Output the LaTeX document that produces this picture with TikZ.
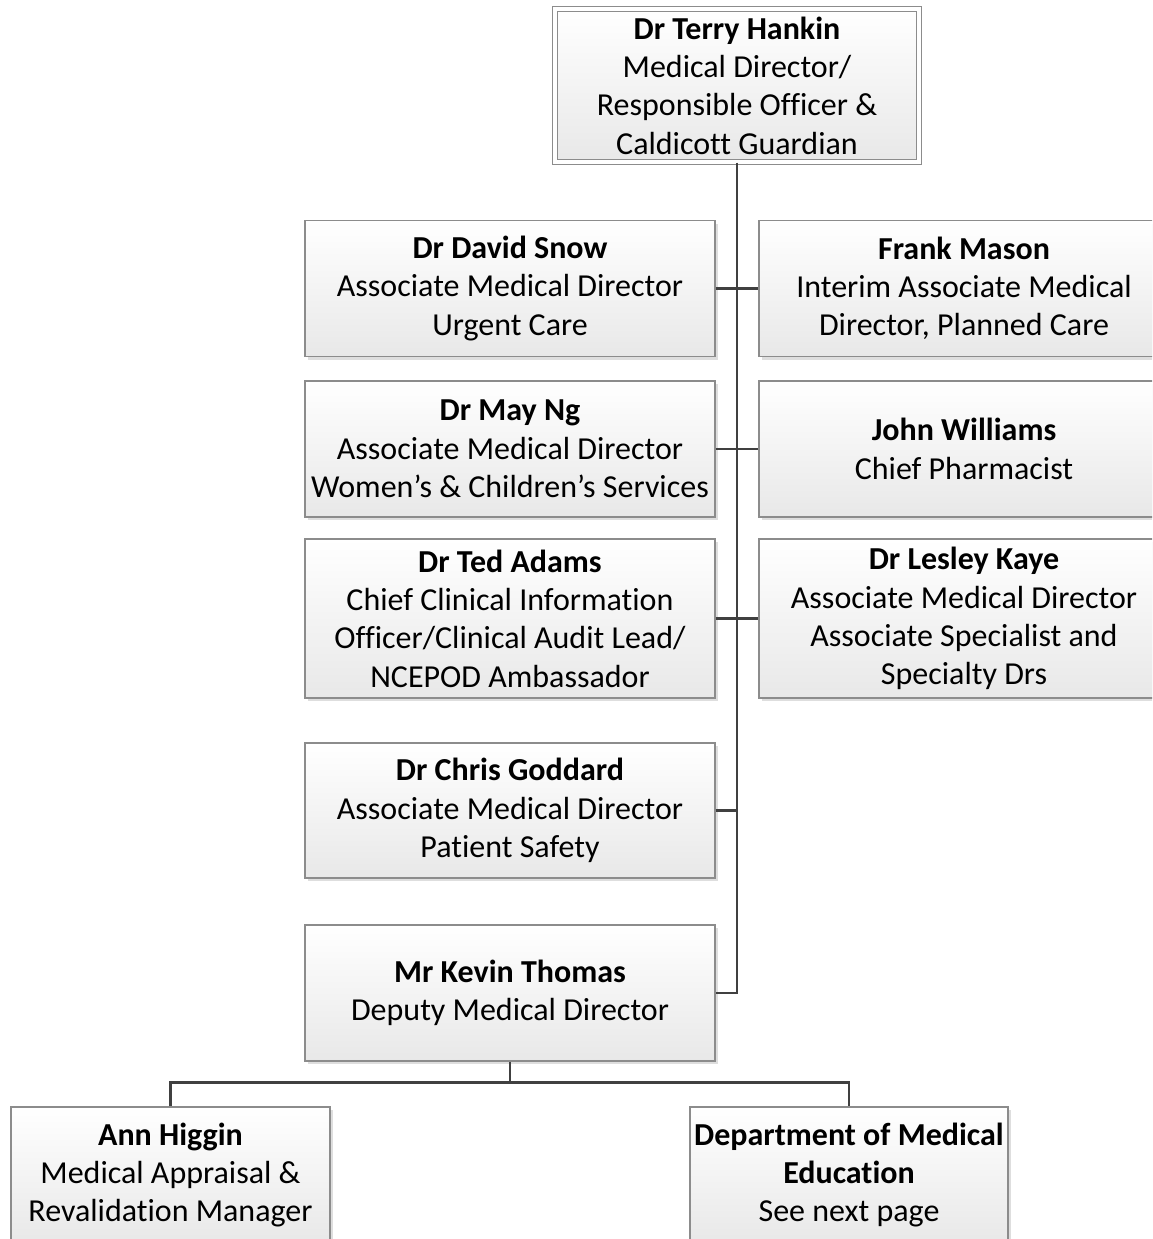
\documentclass[tikz,border=0pt]{standalone}
\usepackage{fontspec}
\setmainfont{Carlito}[Ligatures=NoCommon]
\usetikzlibrary{shadows}

\begin{document}
\begin{tikzpicture}[
    x=1pt, y=-1pt,
    box/.style={rectangle, draw=black!45, line width=1.3pt, top color=white, bottom color=black!9,
        minimum width=410pt, minimum height=136pt, inner sep=0pt, align=center,
        font=\fontsize{32}{38.3}\selectfont,
        drop shadow={shadow xshift=3pt, shadow yshift=-3pt, fill=black!25, opacity=0.5}},
    link/.style={draw=black!75, line width=2.8pt}
]
\useasboundingbox (0,0) rectangle (1152,1239);
\clip (0,0) rectangle (1152,1239);
\fill[white] (0,0) rectangle (1152,1239);

\node[box, minimum width=364pt, minimum height=153pt, double=white, double distance=3.5pt, line width=1pt] (hankin) at (737,85.5) {
    \textbf{Dr Terry Hankin}\\Medical Director/\\Responsible Officer \&\\Caldicott Guardian};

\node[box] (snow) at (510,288.5) {\textbf{Dr David Snow}\\Associate Medical Director\\Urgent Care};
\node[box] (mason) at (964,288.5) {\textbf{Frank Mason}\\Interim Associate Medical\\Director, Planned Care};

\node[box] (ng) at (510,449) {\textbf{Dr May Ng}\\Associate Medical Director\\Women’s \& Children’s Services};
\node[box] (williams) at (964,449) {\textbf{John Williams}\\Chief Pharmacist};

\node[box, minimum height=159pt] (adams) at (510,618.5) {\textbf{Dr Ted Adams}\\Chief Clinical Information\\Officer/Clinical Audit Lead/\\NCEPOD Ambassador};
\node[box, minimum height=159pt] (kaye) at (964,618.5) {\textbf{Dr Lesley Kaye}\\Associate Medical Director\\Associate Specialist and\\Specialty Drs};

\node[box, minimum height=135pt] (goddard) at (510,810.5) {\textbf{Dr Chris Goddard}\\Associate Medical Director\\Patient Safety};

\node[box] (thomas) at (510,993) {\textbf{Mr Kevin Thomas}\\Deputy Medical Director};

\node[box, minimum width=319pt] (higgin) at (170.5,1175) {\textbf{Ann Higgin}\\Medical Appraisal \&\\Revalidation Manager};
\node[box, minimum width=318pt] (dme) at (849,1175) {\textbf{Department of Medical}\\\textbf{Education}\\See next page};

% connectors
\draw[link] (hankin.south) |- (thomas.east);
\draw[link] (snow.east) -- (mason.west);
\draw[link] (ng.east) -- (williams.west);
\draw[link] (adams.east) -- (kaye.west);
\draw[link] (goddard.east) -- (goddard.east -| hankin.south);

\draw[link] (thomas.south) -- ++(0,21) coordinate (split);
\draw[link] (higgin.north) |- (split) -| (dme.north);

\end{tikzpicture}
\end{document}
